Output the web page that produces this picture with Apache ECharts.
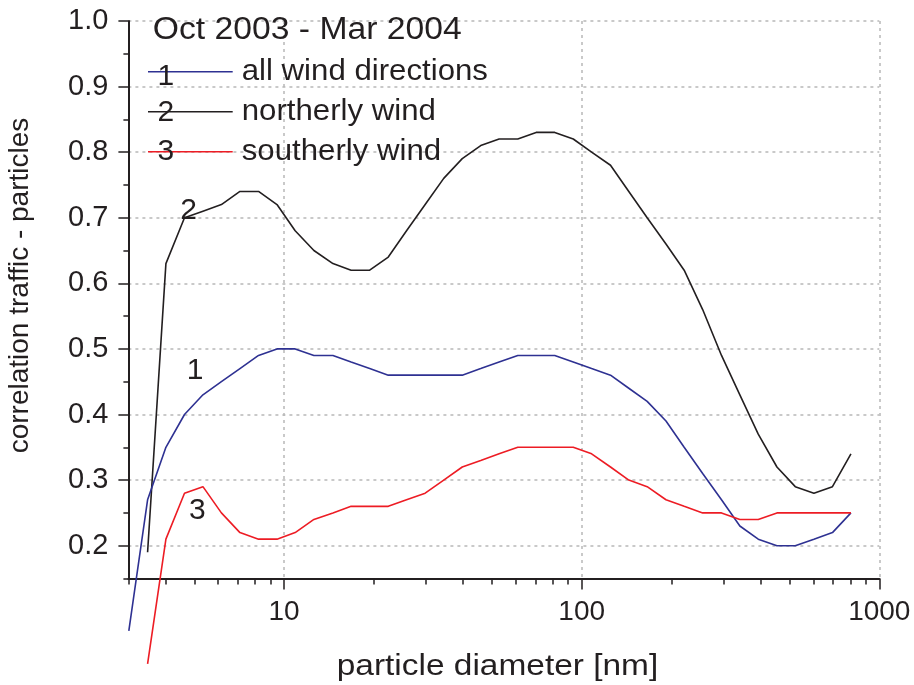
<!DOCTYPE html>
<html>
<head>
<meta charset="utf-8">
<script src="https://cdn.jsdelivr.net/npm/echarts@6/dist/echarts.min.js"></script>
<style>
html,body{margin:0;padding:0;background:#fff;}
#chart{width:914px;height:685px;}
</style>
</head>
<body>
<div id="chart"></div>
<script>
// particle diameter [nm] (first value only used by series 1)
const diameters = [3.01, 3.48, 4.01, 4.63, 5.34, 6.16, 7.11, 8.21, 9.47, 10.9,
  12.6, 14.6, 16.8, 19.4, 22.4, 25.8, 29.8, 34.4, 39.7, 45.8,
  52.8, 61.0, 70.3, 81.2, 93.7, 108, 125, 144, 166, 192,
  221, 255, 295, 340, 392, 453, 522, 603, 696, 803];
// 1: all wind directions
const allWind = [0.07, 0.27, 0.35, 0.40, 0.43, 0.45, 0.47, 0.49, 0.50, 0.50,
  0.49, 0.49, 0.48, 0.47, 0.46, 0.46, 0.46, 0.46, 0.46, 0.47,
  0.48, 0.49, 0.49, 0.49, 0.48, 0.47, 0.46, 0.44, 0.42, 0.39,
  0.35, 0.31, 0.27, 0.23, 0.21, 0.20, 0.20, 0.21, 0.22, 0.25];
// 2: northerly wind (starts at second diameter)
const northWind = [0.19, 0.63, 0.70, 0.71, 0.72, 0.74, 0.74, 0.72, 0.68,
  0.65, 0.63, 0.62, 0.62, 0.64, 0.68, 0.72, 0.76, 0.79, 0.81,
  0.82, 0.82, 0.83, 0.83, 0.82, 0.80, 0.78, 0.74, 0.70, 0.66,
  0.62, 0.56, 0.49, 0.43, 0.37, 0.32, 0.29, 0.28, 0.29, 0.34];
// 3: southerly wind (starts at second diameter)
const southWind = [0.02, 0.21, 0.28, 0.29, 0.25, 0.22, 0.21, 0.21, 0.22,
  0.24, 0.25, 0.26, 0.26, 0.26, 0.27, 0.28, 0.30, 0.32, 0.33,
  0.34, 0.35, 0.35, 0.35, 0.35, 0.34, 0.32, 0.30, 0.29, 0.27,
  0.26, 0.25, 0.25, 0.24, 0.24, 0.25, 0.25, 0.25, 0.25, 0.25];

const seriesNames = ['all wind directions', 'northerly wind', 'southerly wind'];
const seriesNumbers = ['1', '2', '3'];
const titleText = 'Oct 2003 - Mar 2004';
const xTitle = 'particle diameter [nm]';
const yTitle = 'correlation traffic - particles';

const xMajorTicks = [10, 100, 1000];
const xMinorTicks = [3, 4, 5, 6, 7, 8, 9, 20, 30, 40, 50, 60, 70, 80, 90,
  200, 300, 400, 500, 600, 700, 800, 900];
const yMajorTicks = [0.2, 0.3, 0.4, 0.5, 0.6, 0.7, 0.8, 0.9, 1.0];
const yMinorTicks = [0.15, 0.25, 0.35, 0.45, 0.55, 0.65, 0.75, 0.85, 0.95];
// in-plot curve labels (diameter, correlation)
const curveLabelPos = [[5.03, 0.466], [4.78, 0.71], [5.11, 0.253]];

const COLORS = ['#2e3192', '#231f20', '#ed1c24'];
const INK = '#231f20';
const FONT = '"Liberation Sans", Arial, Helvetica, sans-serif';

function pairs(xs, ys) { return ys.map((v, i) => [xs[i], v]); }
const xsShift = diameters.slice(1);

function curveLabel(idx) {
  return {
    silent: true,
    symbol: 'circle',
    symbolSize: 0,
    itemStyle: { color: 'transparent' },
    label: {
      show: true, position: 'inside', formatter: seriesNumbers[idx],
      fontSize: 30, fontFamily: FONT, color: INK
    },
    data: [{ coord: curveLabelPos[idx] }]
  };
}

const chart = echarts.init(document.getElementById('chart'), null, { renderer: 'canvas' });

const gridRect = { left: 128.4, top: 20.9, right: 34.7, bottom: 106.5 };
const gridLine = { show: true, lineStyle: { color: '#b8b8b8', width: 1.5, type: [3, 4] } };

const option = {
  animation: false,
  backgroundColor: '#ffffff',
  grid: Object.assign({ containLabel: false }, gridRect),
  xAxis: [
    {
      type: 'log', logBase: 10, min: 3, max: 1000, position: 'bottom',
      axisLine: { show: true, onZero: false, lineStyle: { color: INK, width: 2 } },
      axisTick: { show: true, inside: false, length: 11, customValues: xMajorTicks, lineStyle: { color: INK, width: 1.5 } },
      axisLabel: { show: true, customValues: xMajorTicks, margin: 20, fontSize: 28, fontFamily: FONT, color: INK,
        formatter: v => String(Math.round(v)) },
      splitLine: gridLine,
      minorTick: { show: false }, minorSplitLine: { show: false }
    },
    {
      type: 'log', logBase: 10, min: 3, max: 1000, position: 'bottom',
      axisLine: { show: false, onZero: false },
      axisTick: { show: true, inside: false, length: 6, customValues: xMinorTicks, lineStyle: { color: INK, width: 1.5 } },
      axisLabel: { show: false },
      splitLine: { show: false }
    }
  ],
  yAxis: [
    {
      type: 'value', min: 0.15, max: 1.0, position: 'left',
      axisLine: { show: true, onZero: false, lineStyle: { color: INK, width: 2 } },
      axisTick: { show: true, inside: false, length: 10, customValues: yMajorTicks, lineStyle: { color: INK, width: 1.5 } },
      axisLabel: { show: true, customValues: yMajorTicks, margin: 20, fontSize: 29, fontFamily: FONT, color: INK,
        formatter: v => v.toFixed(1) },
      splitLine: gridLine
    },
    {
      type: 'value', min: 0.15, max: 1.0, position: 'left',
      axisLine: { show: false, onZero: false },
      axisTick: { show: true, inside: false, length: 5, customValues: yMinorTicks, lineStyle: { color: INK, width: 1.5 } },
      axisLabel: { show: false },
      splitLine: { show: false }
    }
  ],
  series: [
    {
      name: seriesNames[1], type: 'line', xAxisIndex: 0, yAxisIndex: 0,
      data: pairs(xsShift, northWind), showSymbol: false, symbol: 'none', clip: false,
      lineStyle: { color: COLORS[1], width: 1.6 }, itemStyle: { color: COLORS[1] },
      markPoint: curveLabel(1), z: 3
    },
    {
      name: seriesNames[0], type: 'line', xAxisIndex: 0, yAxisIndex: 0,
      data: pairs(diameters, allWind), showSymbol: false, symbol: 'none', clip: false,
      lineStyle: { color: COLORS[0], width: 1.6 }, itemStyle: { color: COLORS[0] },
      markPoint: curveLabel(0), z: 3
    },
    {
      name: seriesNames[2], type: 'line', xAxisIndex: 0, yAxisIndex: 0,
      data: pairs(xsShift, southWind), showSymbol: false, symbol: 'none', clip: false,
      lineStyle: { color: COLORS[2], width: 1.6 }, itemStyle: { color: COLORS[2] },
      markPoint: curveLabel(2), z: 3
    }
  ],
  graphic: [
    // title
    { type: 'text', x: 152.7, y: 30.3, scaleX: 1.087, z: 10,
      style: { text: titleText, x: 0, y: 0, font: '31px ' + FONT, fill: INK, align: 'left', verticalAlign: 'middle' } },
    // legend lines
    { type: 'line', z: 10, shape: { x1: 148, y1: 71.7, x2: 232.7, y2: 71.7 }, style: { stroke: COLORS[0], lineWidth: 1.6 } },
    { type: 'line', z: 10, shape: { x1: 148, y1: 111.7, x2: 232.7, y2: 111.7 }, style: { stroke: COLORS[1], lineWidth: 1.6 } },
    { type: 'line', z: 10, shape: { x1: 148, y1: 151.7, x2: 232.7, y2: 151.7 }, style: { stroke: COLORS[2], lineWidth: 1.6 } },
    // legend numbers
    { type: 'text', x: 165.8, y: 76.3, z: 11,
      style: { text: seriesNumbers[0], x: 0, y: 0, font: '30px ' + FONT, fill: INK, align: 'center', verticalAlign: 'middle' } },
    { type: 'text', x: 165.8, y: 112.9, z: 11,
      style: { text: seriesNumbers[1], x: 0, y: 0, font: '30px ' + FONT, fill: INK, align: 'center', verticalAlign: 'middle' } },
    { type: 'text', x: 165.8, y: 151.3, z: 11,
      style: { text: seriesNumbers[2], x: 0, y: 0, font: '30px ' + FONT, fill: INK, align: 'center', verticalAlign: 'middle' } },
    // legend texts
    { type: 'text', x: 241.7, y: 71.9, scaleX: 1.04, z: 10,
      style: { text: seriesNames[0], x: 0, y: 0, font: '30px ' + FONT, fill: INK, align: 'left', verticalAlign: 'middle' } },
    { type: 'text', x: 241.7, y: 111.9, scaleX: 1.04, z: 10,
      style: { text: seriesNames[1], x: 0, y: 0, font: '30px ' + FONT, fill: INK, align: 'left', verticalAlign: 'middle' } },
    { type: 'text', x: 241.7, y: 151.3, scaleX: 1.04, z: 10,
      style: { text: seriesNames[2], x: 0, y: 0, font: '30px ' + FONT, fill: INK, align: 'left', verticalAlign: 'middle' } },
    // axis titles
    { type: 'text', x: 497.5, y: 666.7, scaleX: 1.153, z: 10,
      style: { text: xTitle, x: 0, y: 0, font: '29px ' + FONT, fill: INK, align: 'center', verticalAlign: 'middle' } },
    { type: 'text', x: 20.7, y: 285.5, rotation: Math.PI / 2, z: 10,
      style: { text: yTitle, x: 0, y: 0, font: '28px ' + FONT, fill: INK, align: 'center', verticalAlign: 'middle' } }
  ]
};

chart.setOption(option);
</script>
</body>
</html>
